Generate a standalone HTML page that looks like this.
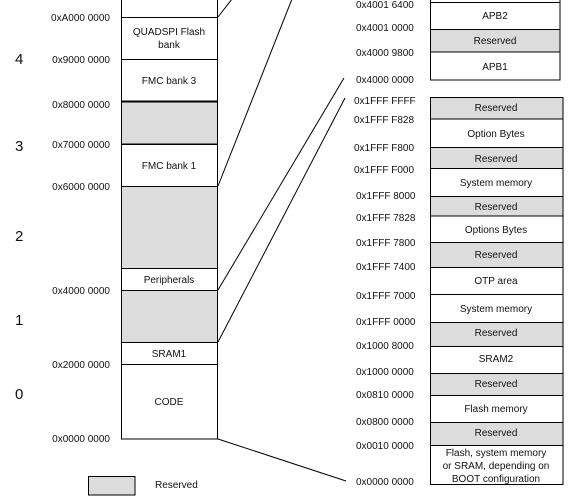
<!DOCTYPE html>
<html><head><meta charset="utf-8"><style>
html,body{margin:0;padding:0;background:#fff;}
svg{display:block;}
text{font-family:"Liberation Sans",Arial,sans-serif;font-size:10px;fill:#111;}
.n{font-size:15px;}
</style></head><body>
<svg width="573" height="501" viewBox="0 0 573 501" xmlns="http://www.w3.org/2000/svg">
<g stroke="#000" stroke-width="1">
<!-- left column -->
<rect x="121.5" y="-5" width="96" height="444" fill="#fff"/>
<rect x="121.5" y="101.5" width="96" height="42.5" fill="#dcdcdc"/>
<rect x="121.5" y="186.5" width="96" height="82" fill="#dcdcdc"/>
<rect x="121.5" y="290.5" width="96" height="52" fill="#dcdcdc"/>
<line x1="121" y1="17.5" x2="218" y2="17.5"/>
<line x1="121" y1="59.5" x2="218" y2="59.5"/>
<line x1="121" y1="101.5" x2="218" y2="101.5" stroke-width="2"/>
<line x1="121" y1="144.5" x2="218" y2="144.5"/>
<line x1="121" y1="186.5" x2="218" y2="186.5"/>
<line x1="121" y1="268.5" x2="218" y2="268.5"/>
<line x1="121" y1="290.5" x2="218" y2="290.5"/>
<line x1="121" y1="342.5" x2="218" y2="342.5"/>
<line x1="121" y1="364.5" x2="218" y2="364.5"/>
<!-- connectors -->
<line x1="218" y1="17" x2="232" y2="-1"/>
<line x1="218" y1="186" x2="292" y2="-1"/>
<line x1="218" y1="290" x2="344" y2="78"/>
<line x1="218" y1="342" x2="345" y2="98"/>
<line x1="218" y1="439" x2="346" y2="481"/>
<!-- top right box -->
<rect x="430.5" y="-5" width="129.5" height="85" fill="#fff"/>
<rect x="430.5" y="29.5" width="129.5" height="22.5" fill="#dcdcdc"/>
<line x1="430" y1="2.5" x2="560" y2="2.5"/>
<!-- lower right box -->
<rect x="430.5" y="97.5" width="132.5" height="387" fill="#fff"/>
<rect x="430.5" y="97.5" width="132.5" height="21.5" fill="#dcdcdc"/>
<rect x="430.5" y="147.5" width="132.5" height="21" fill="#dcdcdc"/>
<rect x="430.5" y="196.5" width="132.5" height="19.5" fill="#dcdcdc"/>
<rect x="430.5" y="242.5" width="132.5" height="25" fill="#dcdcdc"/>
<line x1="430" y1="294.5" x2="563" y2="294.5"/>
<rect x="430.5" y="322.5" width="132.5" height="24" fill="#dcdcdc"/>
<rect x="430.5" y="373.5" width="132.5" height="22" fill="#dcdcdc"/>
<rect x="430.5" y="422.5" width="132.5" height="23" fill="#dcdcdc"/>
<!-- legend -->
<rect x="88.5" y="476.5" width="46.5" height="18.5" fill="#dcdcdc"/>
</g>
<!-- left labels -->
<g text-anchor="middle">
<text x="169" y="35">QUADSPI Flash</text>
<text x="169" y="48">bank</text>
<text x="169" y="84">FMC bank 3</text>
<text x="169" y="169">FMC bank 1</text>
<text x="169" y="283">Peripherals</text>
<text x="169" y="357">SRAM1</text>
<text x="169" y="405">CODE</text>
</g>
<g text-anchor="end">
<text x="110" y="21">0xA000 0000</text>
<text x="110" y="63">0x9000 0000</text>
<text x="110" y="108">0x8000 0000</text>
<text x="110" y="148">0x7000 0000</text>
<text x="110" y="190">0x6000 0000</text>
<text x="110" y="294">0x4000 0000</text>
<text x="110" y="368">0x2000 0000</text>
<text x="110" y="442">0x0000 0000</text>
</g>
<text class="n" x="15" y="64">4</text>
<text class="n" x="15" y="151">3</text>
<text class="n" x="15" y="241">2</text>
<text class="n" x="15" y="325">1</text>
<text class="n" x="15" y="399">0</text>
<text x="155" y="488">Reserved</text>
<!-- right addresses -->
<g>
<text x="356" y="8">0x4001 6400</text>
<text x="356" y="31">0x4001 0000</text>
<text x="356" y="56">0x4000 9800</text>
<text x="356" y="83">0x4000 0000</text>
<text x="354" y="104">0x1FFF FFFF</text>
<text x="354" y="123">0x1FFF F828</text>
<text x="354" y="151">0x1FFF F800</text>
<text x="354" y="173">0x1FFF F000</text>
<text x="356" y="199">0x1FFF 8000</text>
<text x="356" y="221">0x1FFF 7828</text>
<text x="356" y="246">0x1FFF 7800</text>
<text x="356" y="270">0x1FFF 7400</text>
<text x="356" y="299">0x1FFF 7000</text>
<text x="356" y="325">0x1FFF 0000</text>
<text x="356" y="349">0x1000 8000</text>
<text x="356" y="375">0x1000 0000</text>
<text x="356" y="398">0x0810 0000</text>
<text x="356" y="425">0x0800 0000</text>
<text x="356" y="449">0x0010 0000</text>
<text x="356" y="485">0x0000 0000</text>
</g>
<g text-anchor="middle">
<text x="495" y="19">APB2</text>
<text x="495" y="44">Reserved</text>
<text x="495" y="70">APB1</text>
<text x="496" y="111">Reserved</text>
<text x="496" y="137">Option Bytes</text>
<text x="496" y="162">Reserved</text>
<text x="496" y="186">System memory</text>
<text x="496" y="210">Reserved</text>
<text x="496" y="233">Options Bytes</text>
<text x="496" y="258">Reserved</text>
<text x="496" y="284">OTP area</text>
<text x="496" y="312">System memory</text>
<text x="496" y="336">Reserved</text>
<text x="496" y="362">SRAM2</text>
<text x="496" y="387">Reserved</text>
<text x="496" y="412">Flash memory</text>
<text x="496" y="436">Reserved</text>
<text x="496" y="456">Flash, system memory</text>
<text x="496" y="469">or SRAM, depending on</text>
<text x="496" y="482">BOOT configuration</text>
</g>
</svg>
</body></html>
